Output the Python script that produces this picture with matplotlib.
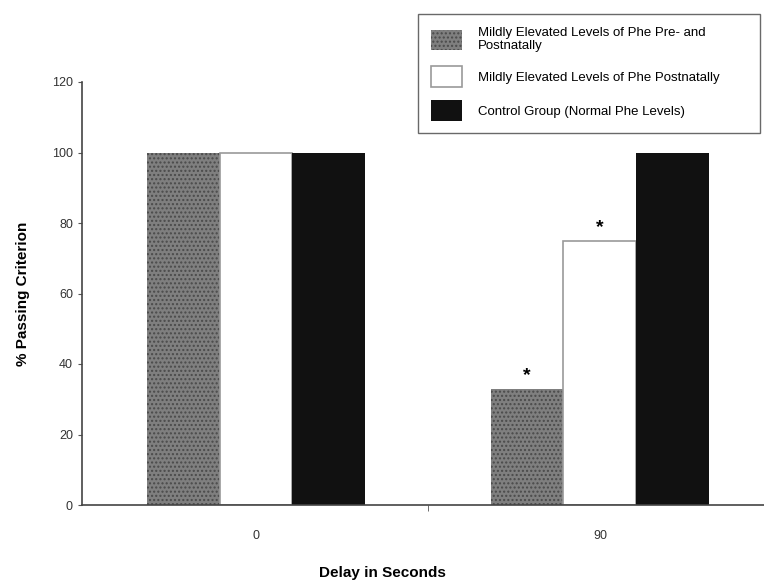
import matplotlib
matplotlib.use("Agg")
import matplotlib.pyplot as plt
import numpy as np

plt.rcParams['font.family'] = ['Liberation Sans', 'DejaVu Sans']

categories = ["0", "90"]
series_names = ["Mildly Elevated Levels of Phe Pre- and\nPostnatally",
                "Mildly Elevated Levels of Phe Postnatally",
                "Control Group (Normal Phe Levels)"]
pre_post = [100, 33]
post_only = [100, 75]
control = [100, 100]
significant_pre_post = [False, True]
significant_post_only = [False, True]

fig = plt.figure(figsize=(7.64, 5.86), dpi=100)
ax = fig.add_axes([82/764, 1-505/586, 1-82/764, (505-82)/586])

x = np.arange(len(categories))
w = 0.212
b1 = ax.bar(x - w, pre_post, w, facecolor='#7f7f7f', edgecolor='#4a4a4a',
            hatch='....', linewidth=0)
b2 = ax.bar(x, post_only, w, facecolor='white', edgecolor='#9a9a9a', linewidth=1.2)
b3 = ax.bar(x + w, control, w, facecolor='#111111', edgecolor='#111111', linewidth=0)

for xi, v, s in zip(x - w, pre_post, significant_pre_post):
    if s:
        ax.text(xi, v + 1.2, '*', ha='center', va='bottom', fontsize=14, fontweight='bold')
for xi, v, s in zip(x, post_only, significant_post_only):
    if s:
        ax.text(xi, v + 1.2, '*', ha='center', va='bottom', fontsize=14, fontweight='bold')

ax.set_xlim(-0.506, 1.477)
ax.set_ylim(0, 120)
ax.set_yticks(np.arange(0, 121, 20))
ax.set_xticks(x)
ax.set_xticklabels(categories)
ax.set_xticks([0.5], minor=True)
ax.tick_params(axis='x', which='major', length=0, pad=18, labelsize=9, labelcolor='#333333')
ax.tick_params(axis='x', which='minor', length=4, color='#555555')
ax.tick_params(axis='y', length=3, labelsize=9, labelcolor='#333333', color='#555555')
for sp in ['top', 'right']:
    ax.spines[sp].set_visible(False)
for sp in ['left', 'bottom']:
    ax.spines[sp].set_color('#444444')
    ax.spines[sp].set_linewidth(1.2)

ax.set_ylabel('% Passing Criterion', fontsize=11, fontweight='bold', labelpad=16)
fig.text(0.5, 1-573/586, 'Delay in Seconds', ha='center', va='center',
         fontsize=11, fontweight='bold')

leg = fig.legend([b1, b2, b3], series_names, loc='upper left',
                 bbox_to_anchor=(418/764, 1-138/586, 342/764, 124/586), mode='expand',
                 fontsize=9.5,
                 frameon=True, fancybox=False, edgecolor='#444444',
                 handlelength=2.4, handleheight=2.0, labelspacing=1.05,
                 borderpad=0.95, borderaxespad=0, handletextpad=1.2)
leg.get_frame().set_linewidth(1.0)

fig.savefig('out.png', dpi=100)
